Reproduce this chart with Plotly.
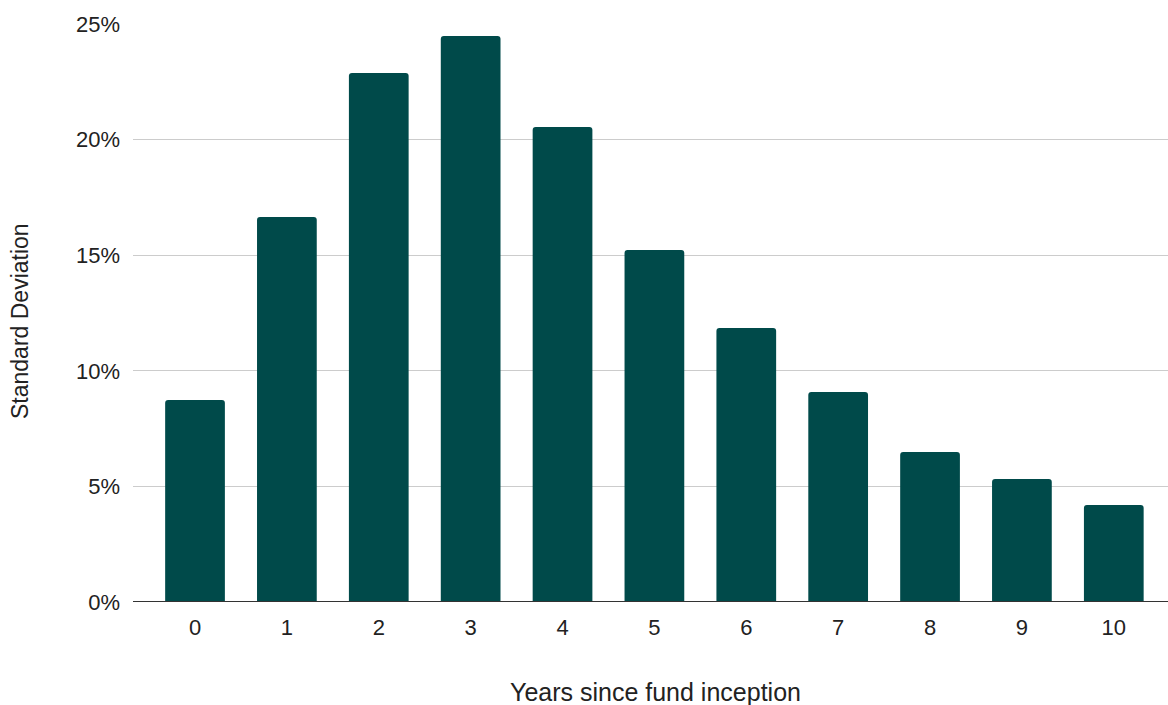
import plotly.graph_objects as go

years = [0, 1, 2, 3, 4, 5, 6, 7, 8, 9, 10]
std_dev_pct = [8.74, 16.65, 22.88, 24.48, 20.55, 15.22, 11.85, 9.08, 6.49, 5.32, 4.20]
y_ticks = [0, 5, 10, 15, 20, 25]

font_family = "Liberation Sans, Arial, sans-serif"
text_color = "#222222"

fig = go.Figure(
    go.Bar(
        x=years,
        y=std_dev_pct,
        width=0.65,
        marker=dict(color="#004a4a", line=dict(width=0)),
        hovertemplate="%{x}: %{y:.2f}%<extra></extra>",
    )
)

fig.update_layout(
    width=1168,
    height=705,
    margin=dict(l=133, r=0, t=24, b=103),
    paper_bgcolor="white",
    plot_bgcolor="white",
    barcornerradius=3,
    showlegend=False,
    font=dict(family=font_family, size=22, color=text_color),
)

fig.update_xaxes(
    range=[-0.675, 10.59],
    tickmode="array",
    tickvals=years,
    ticktext=[str(y) for y in years],
    showgrid=False,
    zeroline=False,
    showline=False,
    ticks="",
    ticklabelstandoff=10,
    tickfont=dict(size=22, color=text_color),
)

fig.update_yaxes(
    range=[0, 25],
    tickmode="array",
    tickvals=y_ticks,
    ticktext=[f"{v}%" for v in y_ticks],
    showgrid=True,
    gridcolor="#cccccc",
    gridwidth=1,
    zeroline=False,
    showline=False,
    ticks="",
    ticklabelstandoff=12,
    tickfont=dict(size=22, color=text_color),
)

# axis titles placed in paper coordinates
fig.add_annotation(
    text="Years since fund inception",
    xref="paper", yref="paper",
    x=0.5 + 5 / 1035, y=-(692 - 602) / 578,
    xanchor="center", yanchor="middle",
    showarrow=False,
    font=dict(size=25, color=text_color),
)
fig.add_annotation(
    text="Standard Deviation",
    xref="paper", yref="paper",
    x=-(133 - 20) / 1035, y=(602 - 321) / 578,
    xanchor="center", yanchor="middle",
    textangle=-90,
    showarrow=False,
    font=dict(size=23, color=text_color),
)

# baseline along 0%
fig.add_shape(
    type="line", xref="paper", yref="y",
    x0=0, x1=1, y0=0, y1=0,
    line=dict(color="#333333", width=2),
)

fig.write_html("out.html")
